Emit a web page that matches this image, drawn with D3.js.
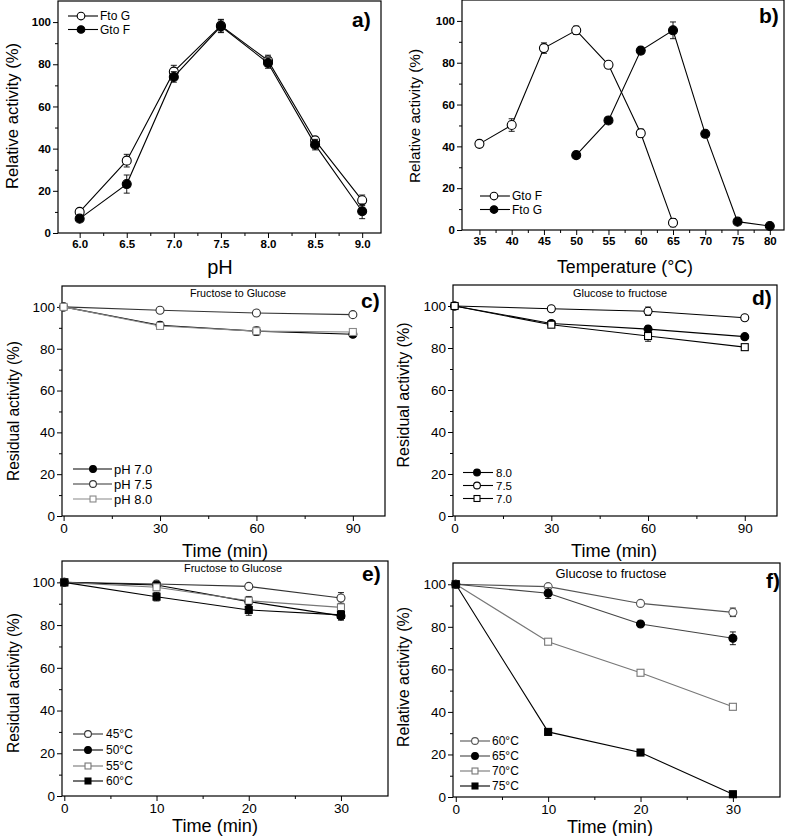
<!DOCTYPE html>
<html>
<head>
<meta charset="utf-8">
<script src="https://cdn.jsdelivr.net/npm/d3@7"></script>
<style>
  html, body { margin: 0; padding: 0; background: #fff; }
  svg { display: block; }
  text { font-family: "Liberation Sans", Arial, sans-serif; fill: #000; }
</style>
</head>
<body>
<svg id="chart" width="787" height="836"></svg>
<script>
// ---------- DATA ----------
// Panel a: pH effect
const pHValues = [6.0, 6.5, 7.0, 7.5, 8.0, 8.5, 9.0];
const aFtoG = [10, 34.3, 76.5, 98.3, 81.8, 43.9, 15.5];
const aFtoGErr = [1.5, 3, 3, 3, 2.5, 1.5, 2.5];
const aGtoF = [6.8, 23.2, 74, 98, 80.6, 41.9, 10.3];
const aGtoFErr = [1, 4.3, 2.5, 3, 2.5, 2.5, 3.5];

// Panel b: temperature effect
const bTempGtoF = [35, 40, 45, 50, 55, 60, 65];
const bGtoF = [41.2, 50.2, 87, 95.5, 79, 46.3, 3.5];
const bGtoFErr = [1, 3, 2.5, 2, 1, 2, 2];
const bTempFtoG = [50, 55, 60, 65, 70, 75, 80];
const bFtoG = [35.8, 52.4, 85.8, 95.5, 46, 4, 1.9];
const bFtoGErr = [1.5, 1.5, 1.5, 4, 1, 1, 0.5];

// Panel c & d: pH stability (time, min)
const timePH = [0, 30, 60, 90];
const cPH70 = [100, 91.2, 88.4, 86.9];
const cPH75 = [100, 98.4, 97.1, 96.3];
const cPH80 = [100, 90.9, 88.4, 88.0];
const cErr70 = [0, 1.5, 1.5, 1];
const cErr75 = [0, 1, 1, 1];
const cErr80 = [0, 1.5, 2, 1.5];
const dPH80 = [100, 91.7, 89, 85.4];
const dPH75 = [100, 98.7, 97.5, 94.4];
const dPH70 = [100, 91.1, 85.7, 80.4];
const dErr80 = [0, 1, 1.5, 1];
const dErr75 = [0, 1, 2, 1];
const dErr70 = [0, 1, 2.5, 1];

// Panel e & f: thermal stability (time, min)
const timeT = [0, 10, 20, 30];
const e45 = [100, 99.2, 98.1, 92.7];
const e50 = [100, 98.8, 91.0, 84.3];
const e55 = [100, 97.7, 91.4, 88.3];
const e60 = [100, 93.3, 87.1, 84.8];
const eErr45 = [0, 1, 1, 2.5];
const eErr50 = [0, 1, 2, 2];
const eErr55 = [0, 1, 2, 1.5];
const eErr60 = [0, 2, 2.5, 2];
const f60 = [100, 98.9, 91.0, 86.8];
const f65 = [100, 95.8, 81.3, 74.6];
const f70 = [100, 73.0, 58.4, 42.4];
const f75 = [100, 30.6, 20.9, 1.3];
const fErr60 = [0, 1, 1, 2];
const fErr65 = [0, 2.5, 1, 3];
const fErr70 = [0, 1, 1, 1];
const fErr75 = [0, 1, 1, 0.5];

// Tick labels
const yTicks = [0, 20, 40, 60, 80, 100];
const yMinor = [10, 30, 50, 70, 90];
const aXTicks = [6.0, 6.5, 7.0, 7.5, 8.0, 8.5, 9.0];
const aXMinor = [6.25, 6.75, 7.25, 7.75, 8.25, 8.75];
const bXTicks = [35, 40, 45, 50, 55, 60, 65, 70, 75, 80];
const bXMinor = [37.5, 42.5, 47.5, 52.5, 57.5, 62.5, 67.5, 72.5, 77.5];
const cdXTicks = [0, 30, 60, 90];
const cdXMinor = [15, 45, 75];
const efXTicks = [0, 10, 20, 30];
const efXMinor = [5, 15, 25];

// ---------- DRAWING ----------
const svg = d3.select("#chart");
const smallTick = "13.5px 'Liberation Sans Narrow', 'Liberation Sans', Arial, sans-serif";
const boldTick = "bold 11.5px 'Liberation Sans', Arial, sans-serif";

const panels = [
  { id: "a", rect: [58, 1, 381, 233], xDom: [5.77, 9.2], xTicks: aXTicks, xMinor: aXMinor, xFmt: d3.format(".1f"),
    tickFont: boldTick,
    xLabel: "pH", xLabelPos: [220, 274], xLabelSize: 20, xLabelLen: null,
    yLabel: "Relative activity (%)", yLabelPos: [12, 116], yLabelLen: 146, yLabelSize: 16,
    tag: "a)", tagPos: [352, 27], title: null,
    series: [
      { name: "Fto G", x: pHValues, y: aFtoG, err: aFtoGErr, shape: "circle", fill: "#fff", color: "#000", r: 4.5 },
      { name: "Gto F", x: pHValues, y: aGtoF, err: aGtoFErr, shape: "circle", fill: "#000", color: "#000", r: 4.5 }
    ],
    legend: { x0: 68, x1: 98, mx: 81, tx: 100, rows: [16, 29.5], size: 12 } },
  { id: "b", rect: [462, 0, 784, 230], xDom: [32.3, 82.2], xTicks: bXTicks, xMinor: bXMinor, xFmt: d3.format("d"),
    tickFont: boldTick,
    xLabel: "Temperature (°C)", xLabelPos: [625, 273], xLabelSize: 17.5, xLabelLen: 136,
    yLabel: "Relative activity (%)", yLabelPos: [415, 116], yLabelLen: 134, yLabelSize: 15,
    tag: "b)", tagPos: [759, 23], title: null,
    series: [
      { name: "Gto F", x: bTempGtoF, y: bGtoF, err: bGtoFErr, shape: "circle", fill: "#fff", color: "#000", r: 4.5 },
      { name: "Fto G", x: bTempFtoG, y: bFtoG, err: bFtoGErr, shape: "circle", fill: "#000", color: "#000", r: 4.5 }
    ],
    legend: { x0: 480, x1: 510, mx: 494, tx: 512, rows: [196, 209.5], size: 12 } },
  { id: "c", rect: [62, 286, 385, 516], xDom: [-0.5, 100], xTicks: cdXTicks, xMinor: cdXMinor, xFmt: d3.format("d"),
    tickFont: smallTick,
    xLabel: "Time (min)", xLabelPos: [225, 557], xLabelSize: 18, xLabelLen: 86,
    yLabel: "Residual activity (%)", yLabelPos: [13, 411], yLabelLen: 140, yLabelSize: 16,
    tag: "c)", tagPos: [361, 308], title: "Fructose to Glucose", titlePos: [238, 297], titleSize: 10.5, titleLen: 96,
    series: [
      { name: "pH 7.0", x: timePH, y: cPH70, err: cErr70, shape: "circle", fill: "#000", color: "#000", r: 4 },
      { name: "pH 7.5", x: timePH, y: cPH75, err: cErr75, shape: "circle", fill: "#fff", color: "#333", r: 4 },
      { name: "pH 8.0", x: timePH, y: cPH80, err: cErr80, shape: "square", fill: "#fff", color: "#888", r: 3.5 }
    ],
    legend: { x0: 73, x1: 112, mx: 93, tx: 114, rows: [469, 484, 499], size: 13 } },
  { id: "d", rect: [453, 285, 777, 516], xDom: [-0.5, 100], xTicks: cdXTicks, xMinor: cdXMinor, xFmt: d3.format("d"),
    tickFont: smallTick,
    xLabel: "Time (min)", xLabelPos: [614, 557], xLabelSize: 18, xLabelLen: 86,
    yLabel: "Residual activity (%)", yLabelPos: [403, 395], yLabelLen: 145, yLabelSize: 16,
    tag: "d)", tagPos: [752, 305], title: "Glucose to fructose", titlePos: [620, 297], titleSize: 10.5, titleLen: 94,
    series: [
      { name: "8.0", x: timePH, y: dPH80, err: dErr80, shape: "circle", fill: "#000", color: "#000", r: 4 },
      { name: "7.5", x: timePH, y: dPH75, err: dErr75, shape: "circle", fill: "#fff", color: "#000", r: 4 },
      { name: "7.0", x: timePH, y: dPH70, err: dErr70, shape: "square", fill: "#fff", color: "#000", r: 3.5 }
    ],
    legend: { x0: 463, x1: 493, mx: 477, tx: 496, rows: [472.5, 485.5, 498.5], size: 11.5 } },
  { id: "e", rect: [62, 561, 388, 796], xDom: [-0.25, 35.1], xTicks: efXTicks, xMinor: efXMinor, xFmt: d3.format("d"),
    tickFont: smallTick,
    xLabel: "Time (min)", xLabelPos: [215, 832], xLabelSize: 18, xLabelLen: 86,
    yLabel: "Residual activity (%)", yLabelPos: [13, 683], yLabelLen: 140, yLabelSize: 16,
    tag: "e)", tagPos: [362, 581], title: "Fructose to Glucose", titlePos: [233, 572], titleSize: 11, titleLen: 98,
    series: [
      { name: "45°C", x: timeT, y: e45, err: eErr45, shape: "circle", fill: "#fff", color: "#333", r: 4 },
      { name: "50°C", x: timeT, y: e50, err: eErr50, shape: "circle", fill: "#000", color: "#000", r: 4 },
      { name: "55°C", x: timeT, y: e55, err: eErr55, shape: "square", fill: "#fff", color: "#777", r: 3.5 },
      { name: "60°C", x: timeT, y: e60, err: eErr60, shape: "square", fill: "#000", color: "#000", r: 3.5 }
    ],
    legend: { x0: 73, x1: 103, mx: 88, tx: 106, rows: [734, 750, 766, 781], size: 12 } },
  { id: "f", rect: [453, 563, 780, 797], xDom: [-0.3, 35.1], xTicks: efXTicks, xMinor: efXMinor, xFmt: d3.format("d"),
    tickFont: smallTick,
    xLabel: "Time (min)", xLabelPos: [610, 833], xLabelSize: 18, xLabelLen: 86,
    yLabel: "Relative activity (%)", yLabelPos: [403, 677], yLabelLen: 140, yLabelSize: 16,
    tag: "f)", tagPos: [766, 588], title: "Glucose to fructose", titlePos: [611, 578], titleSize: 12.5, titleLen: 111,
    series: [
      { name: "60°C", x: timeT, y: f60, err: fErr60, shape: "circle", fill: "#fff", color: "#555", r: 4 },
      { name: "65°C", x: timeT, y: f65, err: fErr65, shape: "circle", fill: "#000", color: "#444", r: 4 },
      { name: "70°C", x: timeT, y: f70, err: fErr70, shape: "square", fill: "#fff", color: "#777", r: 3.5 },
      { name: "75°C", x: timeT, y: f75, err: fErr75, shape: "square", fill: "#000", color: "#000", r: 3.5 }
    ],
    legend: { x0: 460, x1: 490, mx: 475, tx: 492, rows: [741, 756, 771, 786], size: 12 } }
];

function drawMarker(g, shape, cx, cy, r, fill, stroke) {
  if (shape === "circle") {
    g.append("circle").attr("cx", cx).attr("cy", cy).attr("r", r)
      .attr("fill", fill).attr("stroke", fill === "#000" ? "#000" : stroke).attr("stroke-width", 1.1);
  } else {
    g.append("rect").attr("x", cx - r).attr("y", cy - r).attr("width", 2 * r).attr("height", 2 * r)
      .attr("fill", fill).attr("stroke", fill === "#000" ? "#000" : stroke).attr("stroke-width", 1.1);
  }
}

panels.forEach(p => {
  const [x0, y0, x1, y1] = p.rect;
  const x = d3.scaleLinear().domain(p.xDom).range([x0, x1]);
  const y = d3.scaleLinear().domain([0, 110]).range([y1, y0]);
  const g = svg.append("g").attr("class", "panel-" + p.id);

  // frame
  g.append("rect").attr("x", x0).attr("y", y0).attr("width", x1 - x0).attr("height", y1 - y0)
    .attr("fill", "none").attr("stroke", "#000").attr("stroke-width", 1.2);

  // x axis
  const xAxis = d3.axisBottom(x).tickValues(p.xTicks).tickFormat(p.xFmt).tickSize(5).tickSizeOuter(0);
  const gx = g.append("g").attr("transform", `translate(0,${y1})`).call(xAxis);
  gx.select(".domain").remove();
  gx.selectAll("text").style("font", p.tickFont).attr("fill", "#000").attr("dy", "0.8em").attr("y", 6);
  const xMinorAxis = d3.axisBottom(x).tickValues(p.xMinor).tickFormat("").tickSize(3).tickSizeOuter(0);
  const gxm = g.append("g").attr("transform", `translate(0,${y1})`).call(xMinorAxis);
  gxm.select(".domain").remove();

  // y axis
  const yAxis = d3.axisLeft(y).tickValues(yTicks).tickFormat(d3.format("d")).tickSize(5).tickSizeOuter(0);
  const gy = g.append("g").attr("transform", `translate(${x0},0)`).call(yAxis);
  gy.select(".domain").remove();
  gy.selectAll("text").style("font", p.tickFont).attr("fill", "#000").attr("x", -7);
  const yMinorAxis = d3.axisLeft(y).tickValues(yMinor).tickFormat("").tickSize(3).tickSizeOuter(0);
  const gym = g.append("g").attr("transform", `translate(${x0},0)`).call(yMinorAxis);
  gym.select(".domain").remove();
  g.selectAll(".tick line").attr("stroke", "#000").attr("stroke-width", 1);

  // axis labels
  const xl = g.append("text").attr("x", p.xLabelPos[0]).attr("y", p.xLabelPos[1])
    .attr("text-anchor", "middle").style("font-size", p.xLabelSize + "px").text(p.xLabel);
  if (p.xLabelLen) xl.attr("textLength", p.xLabelLen).attr("lengthAdjust", "spacingAndGlyphs");
  g.append("text")
    .attr("transform", `translate(${p.yLabelPos[0]},${p.yLabelPos[1]}) rotate(-90)`)
    .attr("text-anchor", "middle").attr("dy", "0.35em")
    .style("font-size", p.yLabelSize + "px")
    .attr("textLength", p.yLabelLen).attr("lengthAdjust", "spacingAndGlyphs")
    .text(p.yLabel);

  // panel tag
  g.append("text").attr("x", p.tagPos[0]).attr("y", p.tagPos[1])
    .style("font-size", "21px").style("font-weight", "bold").text(p.tag);

  // title
  if (p.title) {
    g.append("text").attr("x", p.titlePos[0]).attr("y", p.titlePos[1]).attr("text-anchor", "middle")
      .style("font-size", p.titleSize + "px")
      .attr("textLength", p.titleLen).attr("lengthAdjust", "spacingAndGlyphs").text(p.title);
  }

  // series
  const line = d3.line().x(d => x(d[0])).y(d => y(d[1]));
  p.series.forEach(s => {
    const pts = s.x.map((xv, i) => [xv, s.y[i], s.err[i]]);
    g.append("path").attr("d", line(pts)).attr("fill", "none")
      .attr("stroke", s.color).attr("stroke-width", 1.1);
    // error bars
    pts.forEach(d => {
      if (d[2] > 0) {
        const cx = x(d[0]), yt = y(d[1] + d[2]), yb = y(d[1] - d[2]);
        g.append("line").attr("x1", cx).attr("x2", cx).attr("y1", yt).attr("y2", yb)
          .attr("stroke", "#000").attr("stroke-width", 0.9);
        [yt, yb].forEach(yy => g.append("line").attr("x1", cx - 3).attr("x2", cx + 3)
          .attr("y1", yy).attr("y2", yy).attr("stroke", "#000").attr("stroke-width", 0.9));
      }
    });
    pts.forEach(d => drawMarker(g, s.shape, x(d[0]), y(d[1]), s.r, s.fill, s.color));
  });

  // legend
  const L = p.legend;
  p.series.forEach((s, i) => {
    const ly = L.rows[i];
    g.append("line").attr("x1", L.x0).attr("x2", L.x1).attr("y1", ly).attr("y2", ly)
      .attr("stroke", s.color).attr("stroke-width", 1.1);
    drawMarker(g, s.shape, L.mx, ly, s.r * 0.85, s.fill, s.color);
    g.append("text").attr("x", L.tx).attr("y", ly).attr("dy", "0.36em")
      .style("font-size", L.size + "px").text(s.name);
  });
});
</script>
</body>
</html>
